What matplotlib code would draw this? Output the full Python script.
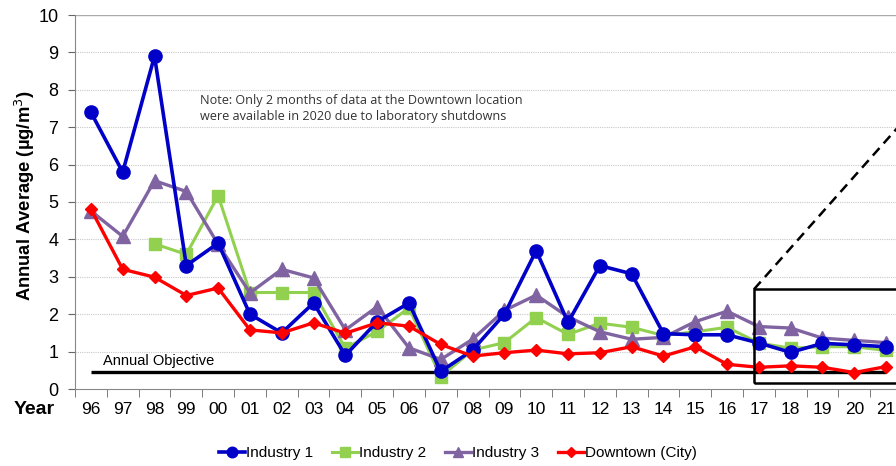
import numpy as np
import matplotlib
matplotlib.use("Agg")
import matplotlib.pyplot as plt
from matplotlib.patches import Rectangle

years = ["96", "97", "98", "99", "00", "01", "02", "03", "04", "05", "06", "07", "08",
         "09", "10", "11", "12", "13", "14", "15", "16", "17", "18", "19", "20", "21"]

industry1 = [7.4, 5.8, 8.9, 3.3, 3.9, 2.0, 1.5, 2.3, 0.9, 1.8, 2.3, 0.47, 1.04,
             2.0, 3.7, 1.78, 3.3, 3.08, 1.48, 1.45, 1.45, 1.23, 0.98, 1.22, 1.18, 1.13]
industry2 = [np.nan, np.nan, 3.88, 3.6, 5.17, 2.58, 2.58, 2.58, 1.09, 1.54, 2.17, 0.33, 1.04,
             1.24, 1.91, 1.46, 1.76, 1.65, 1.43, 1.53, 1.65, 1.23, 1.09, 1.13, 1.13, 1.03]
industry3 = [4.76, 4.08, 5.57, 5.28, 3.87, 2.57, 3.2, 2.97, 1.58, 2.2, 1.1, 0.79, 1.33,
             2.1, 2.51, 1.93, 1.53, 1.33, 1.38, 1.8, 2.08, 1.67, 1.63, 1.36, 1.3, 1.24]
downtown = [4.81, 3.2, 2.99, 2.5, 2.7, 1.58, 1.5, 1.77, 1.49, 1.77, 1.68, 1.19, 0.88,
            0.97, 1.04, 0.94, 0.97, 1.13, 0.88, 1.13, 0.66, 0.58, 0.62, 0.58, 0.44, 0.6]
objective = 0.45

fig = plt.figure(figsize=(8.96, 4.66), dpi=100)
ax = fig.add_axes([75/896, 77/466, 827/896, 374/466])

x = np.arange(len(years))

ax.set_xlim(-0.5, 25.5)
ax.set_ylim(0, 10)

ax.plot([0, 25], [objective, objective], color="black", lw=2.4, zorder=2, solid_capstyle="butt")
ax.text(0.38, objective + 0.1, "Annual Objective", fontsize=10.5, family="Liberation Sans",
        ha="left", va="bottom", color="black")

l1, = ax.plot(x, industry1, color="#0000C8", lw=2.6, marker="o", ms=9.5, label="Industry 1", zorder=4)
l2, = ax.plot(x, industry2, color="#92D050", lw=2.2, marker="s", ms=8.5, label="Industry 2", zorder=3)
l3, = ax.plot(x, industry3, color="#8064A2", lw=2.4, marker="^", ms=9.5, label="Industry 3", zorder=3.5)
l4, = ax.plot(x, downtown, color="#FF0000", lw=2.4, marker="D", ms=6, label="Downtown (City)", zorder=5)

# zoom box and dashed pointer
ax.add_patch(Rectangle((20.85, 0.16), 6.5, 2.51, fill=False, edgecolor="black", lw=1.8,
                       zorder=6, clip_on=True))
ax.plot([20.85, 27.0], [2.67, 2.67 + 6.15 * 0.957], color="black", lw=1.8, ls=(0, (4, 2.5)),
        zorder=6, clip_on=False)

ax.text(3.44, 7.5, "Note: Only 2 months of data at the Downtown location\nwere available in 2020 due to laboratory shutdowns",
        fontsize=9.1, family="Open Sans", color="#333333", ha="left", va="center", linespacing=1.25)

ax.set_yticks(np.arange(0, 11, 1))
ax.set_yticklabels([str(v) for v in range(11)], fontsize=13, family="Liberation Sans")
ax.set_xticks(x)
ax.set_xticklabels(years, fontsize=12.5, family="Liberation Sans")
ax.set_xticks(np.arange(-0.5, 26, 1), minor=True)
ax.tick_params(axis="x", which="major", length=0, pad=9)
ax.tick_params(axis="x", which="minor", length=6, color="#666666", direction="out")
ax.tick_params(axis="y", length=5, color="#666666", pad=7)

for v in range(1, 10):
    ax.axhline(v, color="#C8C8C8", lw=0.8, ls=(0, (1, 1)), zorder=0)
ax.axhline(10, color="#AAAAAA", lw=1.0, zorder=0)

for s in ["top", "right"]:
    ax.spines[s].set_visible(False)
ax.spines["left"].set_color("#888888")
ax.spines["bottom"].set_color("#888888")

ax.set_ylabel("Annual Average (µg/m$^{3}$)", fontsize=13.2, fontweight="bold",
              family="Liberation Sans")
ax.yaxis.set_label_coords(-0.046, 0.516)
fig.text(14/896, 1 - 410/466, "Year", fontsize=14, fontweight="bold", family="Liberation Sans",
         ha="left", va="center")

fig.legend(handles=[l1, l2, l3, l4], loc="center", bbox_to_anchor=(458/896, 13/466), ncol=4,
           frameon=False, handlelength=1.7, handletextpad=0.05, columnspacing=1.25,
           prop={"family": "Liberation Sans", "size": 11}, markerscale=0.8)

fig.savefig("out.png", dpi=100)
